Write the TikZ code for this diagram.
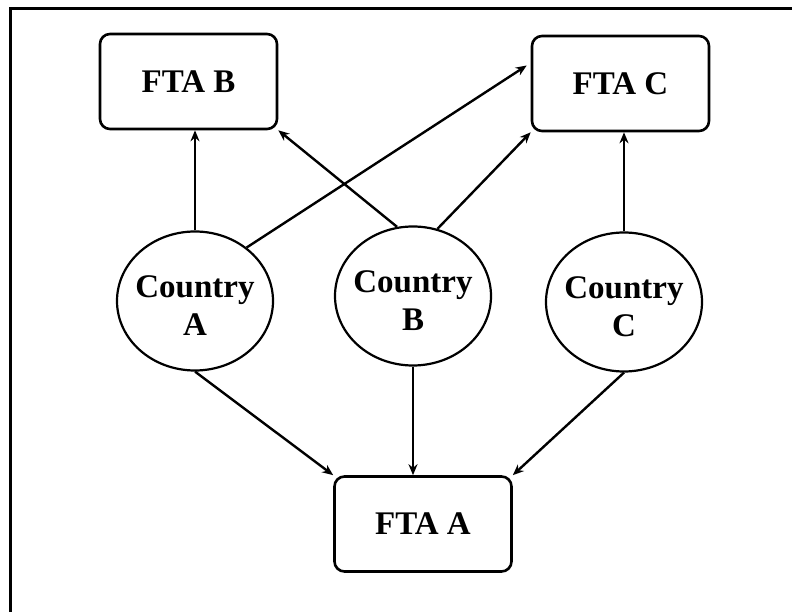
\documentclass[tikz,border=0pt]{standalone}
\usepackage{fontspec}
\setmainfont{Liberation Serif}
\usetikzlibrary{shapes.geometric,arrows.meta,calc}
\newcommand{\ctext}[1]{\makebox[60pt]{\raisebox{-8pt}[\height][\depth]{\begin{tabular}{@{}c@{}}Country\\[1pt]#1\end{tabular}}}}
\begin{document}
\begin{tikzpicture}[x=1pt,y=1pt,
  fta/.style={draw, line width=2.6pt, rounded corners=10pt, minimum width=177pt, minimum height=95pt, font=\fontsize{33}{38}\selectfont\bfseries, inner sep=0pt},
  country/.style={draw, line width=2.2pt, ellipse, minimum width=156pt, minimum height=139pt, inner sep=0pt, font=\fontsize{33}{37}\selectfont\bfseries},
  arr/.style={line width=2.4pt, -{Stealth[length=11pt,width=9pt]}}]
\useasboundingbox (0,0) rectangle (792,612);
\draw[line width=3pt] (10,0) -- (10,603) -- (792,603);
% boxes
\node[fta] (FTAB) at (188.5,530.5) {FTA B};
\node[fta] (FTAC) at (620.5,528.5) {FTA C};
\node[fta] (FTAA) at (423,88) {FTA A};
% countries
\node[country] (A) at (195,311) {\ctext{A}};
\node[country] (B) at (413,316) {\ctext{B}};
\node[country] (C) at (624,310) {\ctext{C}};
% arrows
\draw[arr] (A.north) -- (A.north |- FTAB.south);
\draw[arr] (A.46) -- ($(FTAC.west)+(-4,18)$);
\draw[arr] (B.103) -- (FTAB.south east);
\draw[arr] (B.70) -- (FTAC.south west);
\draw[arr] (C.north) -- (C.north |- FTAC.south);
\draw[arr] (A.south) -- (FTAA.north west);
\draw[arr] (B.south) -- (B.south |- FTAA.north);
\draw[arr] (C.south) -- (FTAA.north east);
\end{tikzpicture}
\end{document}
